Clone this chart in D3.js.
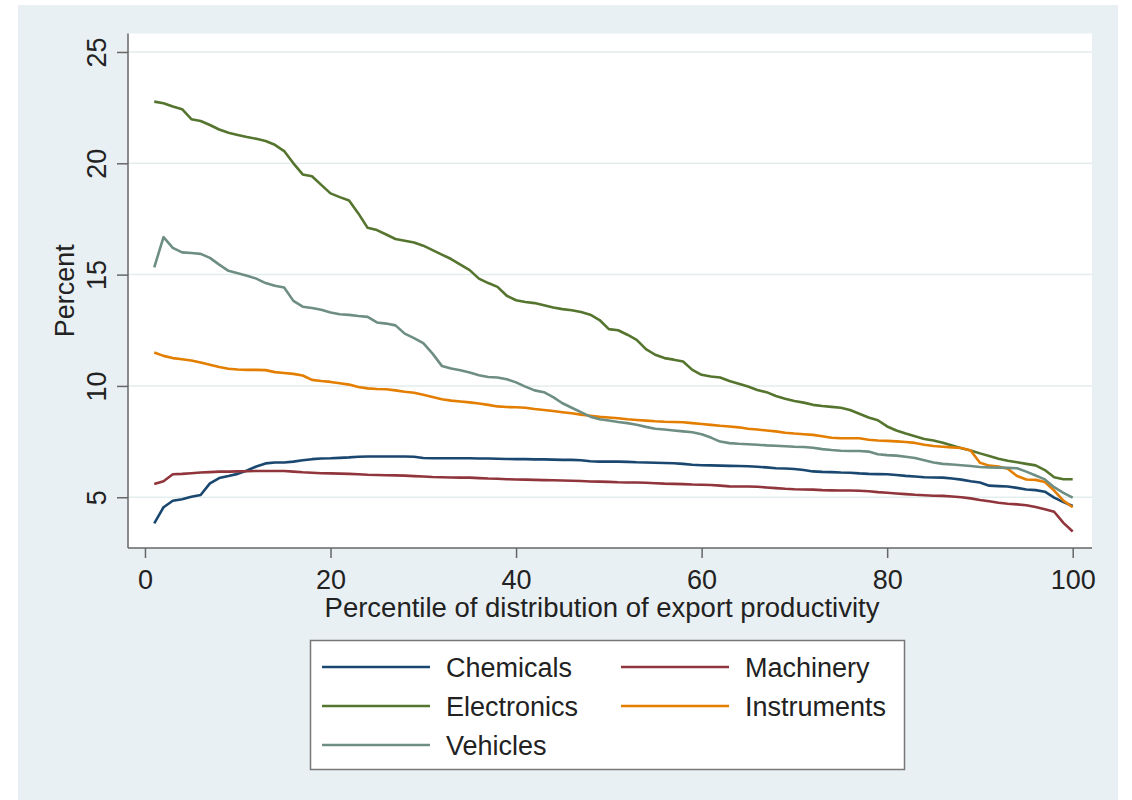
<!DOCTYPE html>
<html>
<head>
<meta charset="utf-8">
<script src="https://cdn.jsdelivr.net/npm/d3@7"></script>
<style>
  html, body { margin: 0; padding: 0; background: #ffffff; }
  svg { display: block; font-family: "Liberation Sans", Arial, sans-serif; }
</style>
</head>
<body>
<div id="chart"></div>
<script>
// percentiles 1..100
const percentiles = d3.range(1, 101);

const chemicals = [
  3.83, 4.55, 4.84, 4.91, 5.02, 5.10, 5.62, 5.86, 5.95, 6.05,
  6.20, 6.38, 6.52, 6.56, 6.56, 6.60, 6.66, 6.71, 6.74, 6.75,
  6.77, 6.79, 6.82, 6.83, 6.83, 6.83, 6.83, 6.83, 6.82, 6.76,
  6.75, 6.75, 6.75, 6.75, 6.75, 6.74, 6.74, 6.73, 6.72, 6.71,
  6.71, 6.70, 6.70, 6.69, 6.68, 6.68, 6.66, 6.62, 6.60, 6.60,
  6.60, 6.59, 6.57, 6.56, 6.55, 6.54, 6.53, 6.50, 6.46, 6.44,
  6.43, 6.42, 6.41, 6.40, 6.39, 6.37, 6.34, 6.30, 6.29, 6.27,
  6.22, 6.16, 6.14, 6.13, 6.11, 6.10, 6.07, 6.05, 6.04, 6.03,
  6.00, 5.96, 5.93, 5.90, 5.89, 5.88, 5.84, 5.79, 5.72, 5.66,
  5.52, 5.50, 5.48, 5.42, 5.35, 5.32, 5.25, 4.98, 4.78, 4.61
];

const machinery = [
  5.60, 5.72, 6.03, 6.05, 6.08, 6.11, 6.13, 6.15, 6.15, 6.16,
  6.17, 6.18, 6.18, 6.18, 6.18, 6.15, 6.12, 6.10, 6.08, 6.07,
  6.06, 6.05, 6.03, 6.01, 6.00, 5.99, 5.98, 5.97, 5.95, 5.93,
  5.91, 5.90, 5.89, 5.88, 5.88, 5.86, 5.84, 5.83, 5.81, 5.80,
  5.79, 5.78, 5.77, 5.76, 5.75, 5.74, 5.73, 5.71, 5.70, 5.69,
  5.67, 5.66, 5.66, 5.65, 5.63, 5.61, 5.60, 5.59, 5.57, 5.56,
  5.55, 5.52, 5.49, 5.48, 5.48, 5.47, 5.44, 5.41, 5.38, 5.36,
  5.35, 5.34, 5.32, 5.31, 5.30, 5.30, 5.29, 5.27, 5.23, 5.20,
  5.17, 5.14, 5.11, 5.09, 5.07, 5.06, 5.03, 5.00, 4.95, 4.88,
  4.82, 4.75, 4.71, 4.68, 4.64, 4.56, 4.46, 4.35, 3.85, 3.46
];

const electronics = [
  22.77, 22.70, 22.55, 22.43, 21.98, 21.90, 21.72, 21.52, 21.37, 21.27,
  21.18, 21.10, 21.00, 20.83, 20.55, 20.00, 19.50, 19.42, 19.03, 18.65,
  18.48, 18.33, 17.75, 17.10, 17.00, 16.80, 16.60, 16.52, 16.44, 16.30,
  16.10, 15.90, 15.70, 15.45, 15.20, 14.82, 14.62, 14.45, 14.05, 13.85,
  13.77, 13.72, 13.62, 13.52, 13.45, 13.40, 13.32, 13.20, 12.96, 12.55,
  12.50, 12.30, 12.07, 11.65, 11.40, 11.25, 11.18, 11.10, 10.72, 10.50,
  10.42, 10.38, 10.22, 10.10, 9.97, 9.82, 9.72, 9.55, 9.42, 9.32,
  9.25, 9.15, 9.10, 9.06, 9.02, 8.92, 8.75, 8.58, 8.46, 8.18,
  8.00, 7.86, 7.74, 7.62, 7.55, 7.45, 7.32, 7.20, 7.10, 6.97,
  6.85, 6.73, 6.64, 6.57, 6.50, 6.43, 6.22, 5.90, 5.81, 5.81
];

const instruments = [
  11.50, 11.35, 11.25, 11.20, 11.14, 11.05, 10.95, 10.85, 10.77, 10.74,
  10.72, 10.72, 10.71, 10.62, 10.58, 10.54, 10.47, 10.27, 10.22, 10.18,
  10.12, 10.06, 9.95, 9.89, 9.86, 9.85, 9.80, 9.74, 9.69, 9.60,
  9.50, 9.40, 9.34, 9.30, 9.26, 9.21, 9.15, 9.08, 9.05, 9.04,
  9.02, 8.96, 8.92, 8.87, 8.82, 8.77, 8.71, 8.66, 8.61, 8.58,
  8.55, 8.50, 8.47, 8.44, 8.41, 8.39, 8.38, 8.37, 8.33, 8.29,
  8.25, 8.21, 8.18, 8.14, 8.08, 8.04, 8.00, 7.96, 7.90, 7.86,
  7.83, 7.80, 7.74, 7.67, 7.65, 7.65, 7.65, 7.58, 7.55, 7.53,
  7.51, 7.48, 7.44, 7.36, 7.30, 7.27, 7.24, 7.21, 7.10, 6.55,
  6.42, 6.38, 6.28, 5.95, 5.80, 5.78, 5.68, 5.30, 4.85, 4.55
];

const vehicles = [
  15.33, 16.68, 16.20, 16.00, 15.97, 15.93, 15.75, 15.45, 15.17, 15.06,
  14.95, 14.82, 14.62, 14.50, 14.42, 13.82, 13.56, 13.50, 13.42, 13.30,
  13.22, 13.19, 13.14, 13.10, 12.85, 12.80, 12.72, 12.35, 12.15, 11.92,
  11.45, 10.90, 10.78, 10.70, 10.60, 10.48, 10.40, 10.38, 10.30, 10.16,
  9.97, 9.80, 9.72, 9.50, 9.22, 9.02, 8.82, 8.62, 8.50, 8.45,
  8.38, 8.33, 8.26, 8.16, 8.08, 8.04, 8.00, 7.96, 7.92, 7.83,
  7.68, 7.50, 7.43, 7.40, 7.38, 7.36, 7.33, 7.31, 7.29, 7.27,
  7.26, 7.22, 7.16, 7.12, 7.09, 7.08, 7.08, 7.05, 6.93, 6.89,
  6.87, 6.82, 6.76, 6.66, 6.56, 6.50, 6.47, 6.44, 6.40, 6.36,
  6.34, 6.33, 6.32, 6.30, 6.15, 5.98, 5.80, 5.45, 5.20, 4.98
];

const seriesNames = ["Chemicals", "Machinery", "Electronics", "Instruments", "Vehicles"];
const seriesValues = [chemicals, machinery, electronics, instruments, vehicles];
const seriesColors = ["#1a476f", "#90353b", "#55752f", "#e37e00", "#6e8e84"];

const yTicks = [5, 10, 15, 20, 25];
const xTicks = [0, 20, 40, 60, 80, 100];

const width = 1132;
const height = 800;
const plot = { left: 128, right: 1092, top: 33.5, bottom: 548 };

const svg = d3.select("#chart")
  .append("svg")
  .attr("width", width)
  .attr("height", height);

// graph region background (Stata s2color)
svg.append("rect")
  .attr("x", 18).attr("y", 5)
  .attr("width", 1100).attr("height", height - 5)
  .attr("fill", "#e9f0f3");

svg.append("rect")
  .attr("x", plot.left).attr("y", plot.top)
  .attr("width", plot.right - plot.left)
  .attr("height", plot.bottom - plot.top)
  .attr("fill", "#ffffff");

const x = d3.scaleLinear().domain([-1.83, 102.08]).range([plot.left, plot.right]);
const y = d3.scaleLinear().domain([2.72, 25.83]).range([plot.bottom, plot.top]);

// grid lines
svg.append("g")
  .selectAll("line")
  .data(yTicks)
  .join("line")
  .attr("x1", plot.left).attr("x2", plot.right)
  .attr("y1", (d) => y(d)).attr("y2", (d) => y(d))
  .attr("stroke", "#e4eded")
  .attr("stroke-width", 1.5);

// y axis
const yAxis = svg.append("g")
  .attr("transform", `translate(${plot.left},0)`)
  .call(d3.axisLeft(y).tickValues(yTicks).tickSize(11).tickSizeOuter(0).tickPadding(0));
yAxis.select(".domain").remove();
yAxis.selectAll(".tick line").attr("stroke", "#666").attr("stroke-width", 1.5);
yAxis.selectAll(".tick text")
  .attr("x", null).attr("dy", null)
  .attr("fill", "#222")
  .style("font-size", "27px")
  .attr("text-anchor", "middle")
  .attr("transform", "translate(-22,0) rotate(-90)");

svg.append("line")
  .attr("x1", plot.left).attr("x2", plot.left)
  .attr("y1", plot.top).attr("y2", plot.bottom)
  .attr("stroke", "#666").attr("stroke-width", 1.5);

// x axis
const xAxis = svg.append("g")
  .attr("transform", `translate(0,${plot.bottom})`)
  .call(d3.axisBottom(x).tickValues(xTicks).tickSize(10).tickSizeOuter(0).tickPadding(0));
xAxis.select(".domain").remove();
xAxis.selectAll(".tick line").attr("stroke", "#666").attr("stroke-width", 1.5);
xAxis.selectAll(".tick text")
  .attr("y", 41).attr("dy", null)
  .attr("fill", "#222")
  .style("font-size", "27px");

svg.append("line")
  .attr("x1", plot.left).attr("x2", plot.right)
  .attr("y1", plot.bottom).attr("y2", plot.bottom)
  .attr("stroke", "#666").attr("stroke-width", 1.5);

// axis titles
svg.append("text")
  .attr("x", (plot.left + plot.right) / 2 - 8)
  .attr("y", 617)
  .attr("text-anchor", "middle")
  .attr("fill", "#222")
  .style("font-size", "27.5px")
  .text("Percentile of distribution of export productivity");

svg.append("text")
  .attr("transform", `translate(74,${(plot.top + plot.bottom) / 2}) rotate(-90)`)
  .attr("text-anchor", "middle")
  .attr("fill", "#222")
  .style("font-size", "27px")
  .text("Percent");

// lines
const line = d3.line()
  .x((d, i) => x(percentiles[i]))
  .y((d) => y(d));

svg.append("g")
  .selectAll("path")
  .data(seriesValues)
  .join("path")
  .attr("d", line)
  .attr("fill", "none")
  .attr("stroke", (d, i) => seriesColors[i])
  .attr("stroke-width", 2.6)
  .attr("stroke-linejoin", "round");

// legend
const legend = svg.append("g");
legend.append("rect")
  .attr("x", 310.5).attr("y", 640.5)
  .attr("width", 594).attr("height", 129)
  .attr("fill", "#ffffff")
  .attr("stroke", "#777")
  .attr("stroke-width", 1.5);

const legendItem = legend.selectAll("g.item")
  .data(seriesNames)
  .join("g")
  .attr("class", "item")
  .attr("transform", (d, i) => `translate(${i % 2 === 0 ? 322 : 621},${667 + Math.floor(i / 2) * 39})`);

legendItem.append("line")
  .attr("x1", 0).attr("x2", 108)
  .attr("stroke", (d, i) => seriesColors[i])
  .attr("stroke-width", 2.6);

legendItem.append("text")
  .attr("x", 124)
  .attr("y", 10)
  .attr("fill", "#222")
  .style("font-size", "27px")
  .text((d) => d);
</script>
</body>
</html>
